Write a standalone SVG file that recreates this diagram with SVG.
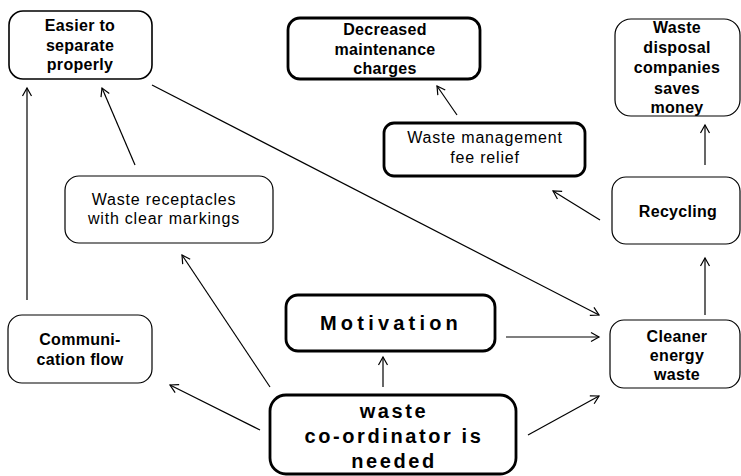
<svg xmlns="http://www.w3.org/2000/svg" width="741" height="476" viewBox="0 0 741 476">
<style>
.box{fill:#fff;stroke:#000;stroke-width:1.2}
.med{stroke-width:1.6}
.thick{stroke-width:2.8}
.b{font-family:"Liberation Sans",Arial,sans-serif;font-weight:bold;font-size:16px;text-anchor:middle;fill:#000;letter-spacing:0.3px}
.r{font-family:"Liberation Sans",Arial,sans-serif;font-size:16px;text-anchor:middle;fill:#000;letter-spacing:0.8px}
.big{font-family:"Liberation Sans",Arial,sans-serif;font-size:20px;font-weight:bold;text-anchor:middle;fill:#000;letter-spacing:2.6px}
.c{fill:none;stroke:#000;stroke-width:1.2;marker-end:url(#ah)}
</style>
<defs>
<marker id="ah" markerUnits="userSpaceOnUse" viewBox="-10 -6 12 12" refX="0" refY="0" markerWidth="12" markerHeight="12" orient="auto">
<path d="M-8,-4.5 L0,0 L-8,4.5" fill="none" stroke="#000" stroke-width="1.2"/>
</marker>
</defs>
<rect width="741" height="476" fill="#fff"/>
<g id="connectors">
<line class="c" x1="27" y1="300" x2="27" y2="88"/>
<line class="c" x1="135" y1="165" x2="102" y2="88"/>
<line class="c" x1="152" y1="85" x2="599" y2="315"/>
<line class="c" x1="457" y1="115" x2="437" y2="86"/>
<line class="c" x1="600" y1="220" x2="553" y2="191"/>
<line class="c" x1="705" y1="165" x2="705" y2="125"/>
<line class="c" x1="705" y1="315" x2="705" y2="258"/>
<line class="c" x1="506" y1="337" x2="599" y2="337"/>
<line class="c" x1="383" y1="387" x2="383" y2="357"/>
<line class="c" x1="270" y1="387" x2="182" y2="255"/>
<line class="c" x1="260" y1="430" x2="170" y2="385"/>
<line class="c" x1="528" y1="435" x2="599" y2="396"/>
</g>
<g id="easier">
<rect class="box med" x="9" y="11" width="143" height="68" rx="14"/>
<text class="b" x="80" y="31">Easier to</text>
<text class="b" x="80" y="51">separate</text>
<text class="b" x="80" y="70">properly</text>
</g>
<g id="decreased">
<rect class="box thick" x="288" y="18" width="192" height="61" rx="12"/>
<text class="b" x="385" y="35">Decreased</text>
<text class="b" x="385" y="55">maintenance</text>
<text class="b" x="385" y="74">charges</text>
</g>
<g id="disposal">
<rect class="box" x="615" y="19" width="125" height="97" rx="16"/>
<text class="b" x="677" y="33">Waste</text>
<text class="b" x="677" y="53">disposal</text>
<text class="b" x="677" y="73">companies</text>
<text class="b" x="677" y="94">saves</text>
<text class="b" x="677" y="113">money</text>
</g>
<g id="feerelief">
<rect class="box thick" x="384" y="123" width="201" height="53" rx="10"/>
<text class="r" x="485" y="143">Waste management</text>
<text class="r" x="485" y="163">fee relief</text>
</g>
<g id="receptacles">
<rect class="box" x="65" y="176" width="208" height="67" rx="14"/>
<text class="r" x="164" y="205">Waste receptacles</text>
<text class="r" x="164" y="224">with clear markings</text>
</g>
<g id="recycling">
<rect class="box" x="612" y="177" width="128" height="67" rx="14"/>
<text class="b" x="678" y="217">Recycling</text>
</g>
<g id="communication">
<rect class="box" x="8" y="315" width="144" height="68" rx="14"/>
<text class="b" x="80" y="345">Communi-</text>
<text class="b" x="80" y="365">cation flow</text>
</g>
<g id="motivation">
<rect class="box thick" x="286" y="295" width="209" height="56" rx="12"/>
<text class="big" x="391" y="330" style="letter-spacing:4.2px">Motivation</text>
</g>
<g id="cleaner">
<rect class="box" x="610" y="320" width="130" height="68" rx="14"/>
<text class="b" x="677" y="342">Cleaner</text>
<text class="b" x="677" y="361">energy</text>
<text class="b" x="677" y="380">waste</text>
</g>
<g id="coordinator">
<rect class="box thick" x="270" y="395" width="246" height="79" rx="16"/>
<text class="big" x="394" y="418">waste</text>
<text class="big" x="394" y="443">co-ordinator is</text>
<text class="big" x="394" y="468">needed</text>
</g>
</svg>
